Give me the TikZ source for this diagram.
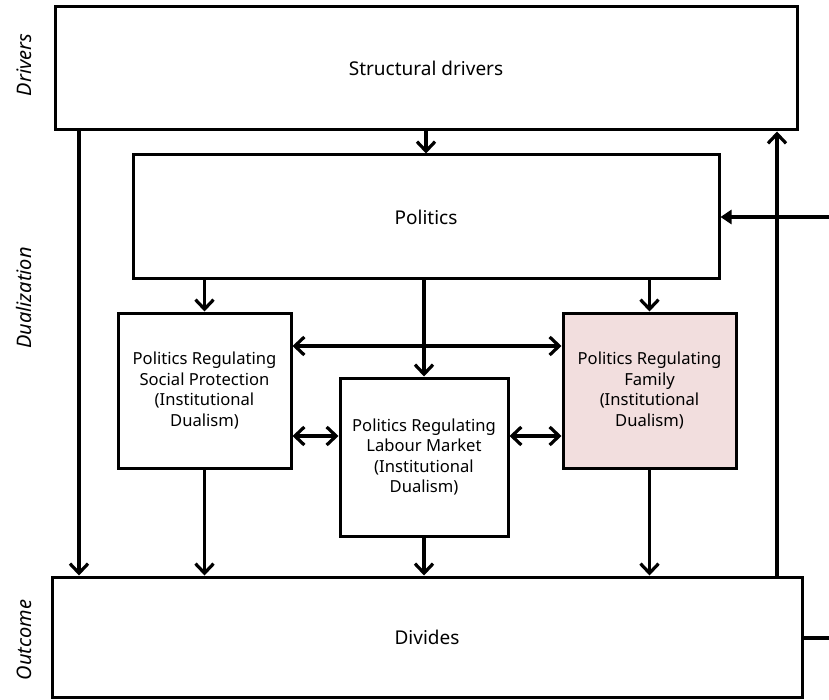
\documentclass[tikz,border=0pt]{standalone}
\usepackage{fontspec}
\setmainfont{Noto Sans}
\usetikzlibrary{arrows.meta}
\definecolor{famfill}{RGB}{242,222,222}
\begin{document}
\begin{tikzpicture}[x=1pt,y=-1pt,
  box/.style={draw,line width=3pt,inner sep=0pt,align=center,font=\fontsize{16.6}{20.6}\selectfont},
  bigbox/.style={box,font=\fontsize{19}{23}\selectfont},
  tip/.tip={Straight Barb[length=9.5pt,width=18pt,line width=3.2pt]},
  conn/.style={line width=3.2pt,-tip},
  bicon/.style={line width=3.2pt,tip-tip},
  inconn/.style={line width=3.2pt,-{Triangle[length=11pt,width=14pt]}},
  side/.style={rotate=90,font=\fontsize{20}{24}\selectfont\itshape}]
\useasboundingbox (0,0) rectangle (829,700);

% boxes
\node[bigbox,minimum width=742pt,minimum height=123pt] (sd) at (426,68.5) {Structural drivers};
\node[bigbox,minimum width=586pt,minimum height=124pt] (pol) at (426,217) {Politics};
\node[box,minimum width=173pt,minimum height=155pt] (sp) at (204.5,390.5)
  {Politics Regulating\\Social Protection\\(Institutional\\Dualism)};
\node[box,minimum width=168pt,minimum height=158pt] (lm) at (424,457)
  {Politics Regulating\\Labour Market\\(Institutional\\Dualism)};
\node[box,fill=famfill,minimum width=173pt,minimum height=155pt] (fam) at (649.5,390.5)
  {Politics Regulating\\Family\\(Institutional\\Dualism)};
\node[bigbox,minimum width=750pt,minimum height=120pt] (div) at (427,637) {Divides};

% side labels
\node[side] (ldrv) at (24,65) {Drivers};
\node[side] (ldual) at (24,298) {Dualization};
\node[side] (lout) at (24,640) {Outcome};

% helper positions
\coordinate (xl) at (79,0);
\coordinate (xr) at (777,0);
\coordinate (yhi) at (0,346);
\coordinate (ylo) at (0,436);
\coordinate (inR) at (829,217);
\coordinate (outR) at (829,638);

% connectors
\draw[conn] (sd.south) -- (pol.north);
\draw[conn] (sd.south -| xl) -- (div.north -| xl);
\draw[conn] (div.north -| xr) -- (sd.south -| xr);
\draw[inconn] (inR) -- (pol.east);
\draw[line width=3.2pt] (div.east |- outR) -- (outR);

\draw[conn] (pol.south -| sp.north) -- (sp.north);
\draw[conn] (pol.south -| lm.north) -- (lm.north);
\draw[conn] (pol.south -| fam.north) -- (fam.north);

\draw[bicon] (sp.east |- yhi) -- (fam.west |- yhi);
\draw[bicon] (sp.east |- ylo) -- (lm.west |- ylo);
\draw[bicon] (lm.east |- ylo) -- (fam.west |- ylo);

\draw[conn] (sp.south) -- (div.north -| sp.south);
\draw[conn] (lm.south) -- (div.north -| lm.south);
\draw[conn] (fam.south) -- (div.north -| fam.south);
\end{tikzpicture}
\end{document}
